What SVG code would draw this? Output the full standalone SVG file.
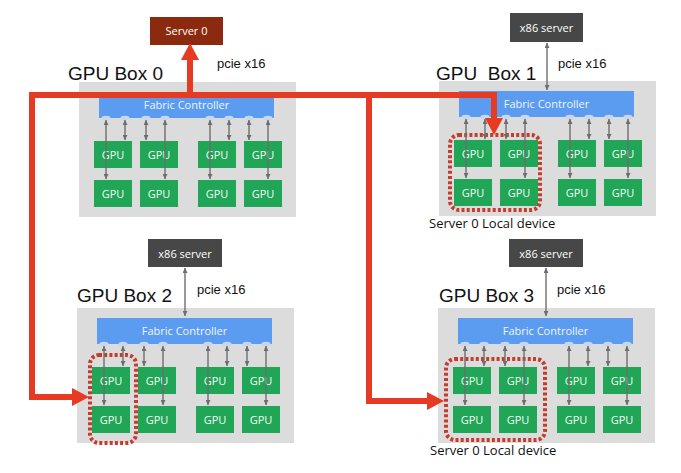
<svg xmlns="http://www.w3.org/2000/svg" width="681" height="473" viewBox="0 0 681 473">
<defs>
<style>
.box{fill:#dcdcdc}
.fc{fill:#5b9cf0}
.fct{font-family:"Open Sans","Noto Sans",sans-serif;font-size:11px;fill:#eef5ff;text-anchor:middle}
.port{fill:#c9d7ec}
.gpu{fill:#21a556}
.gt{font-family:"Open Sans","Noto Sans",sans-serif;font-size:11px;fill:#f2fff6;text-anchor:middle}
.title{font-family:"Liberation Sans",Arial,sans-serif;font-size:19px;fill:#111;white-space:pre}
.pcie{font-family:"Liberation Sans",Arial,sans-serif;font-size:13px;fill:#111}
.srv{fill:#474747}
.srv0{fill:#8c2a10}
.st{font-family:"Open Sans","Noto Sans",sans-serif;font-size:11px;fill:#fff;text-anchor:middle}
.local{font-family:"Open Sans","Noto Sans",sans-serif;font-size:13px;fill:#111}
.dot{fill:none;stroke:#c43c2c;stroke-width:4;stroke-dasharray:3 2.2}
.ga{fill:none;stroke:#6e6e6e;stroke-width:1.4;marker-start:url(#gh);marker-end:url(#gh)}
.red{fill:none;stroke:#e63b22;stroke-width:6;stroke-linejoin:miter;stroke-linecap:square}
.redA{fill:none;stroke:#e63b22;stroke-width:6;stroke-linecap:butt;marker-end:url(#rh)}
</style>
<marker id="gh" viewBox="0 0 6 6" refX="6" refY="3" markerWidth="5" markerHeight="5" markerUnits="userSpaceOnUse" orient="auto-start-reverse">
<path d="M0,0 L6,3 L0,6 z" fill="#6e6e6e"/>
</marker>
<marker id="rh" viewBox="0 0 17 18" refX="0" refY="9" markerWidth="17" markerHeight="18" markerUnits="userSpaceOnUse" orient="auto">
<path d="M0,0 L17,9 L0,18 z" fill="#e63b22"/>
</marker>
<g id="boxtpl">
<rect class="box" x="0" y="0" width="217" height="135"/>
<rect class="fc" x="20" y="10" width="175" height="26"/>
<text class="fct" x="107.5" y="27">Fabric Controller</text>
<ellipse class="port" cx="27" cy="36" rx="4.5" ry="2.3"/>
<ellipse class="port" cx="46" cy="36" rx="4.5" ry="2.3"/>
<ellipse class="port" cx="67" cy="36" rx="4.5" ry="2.3"/>
<ellipse class="port" cx="86" cy="36" rx="4.5" ry="2.3"/>
<ellipse class="port" cx="131" cy="36" rx="4.5" ry="2.3"/>
<ellipse class="port" cx="150" cy="36" rx="4.5" ry="2.3"/>
<ellipse class="port" cx="170" cy="36" rx="4.5" ry="2.3"/>
<ellipse class="port" cx="189" cy="36" rx="4.5" ry="2.3"/>
<rect class="gpu" x="15" y="59" width="38" height="27"/><text class="gt" x="34" y="77">GPU</text>
<rect class="gpu" x="61" y="59" width="38" height="27"/><text class="gt" x="80" y="77">GPU</text>
<rect class="gpu" x="119" y="59" width="38" height="27"/><text class="gt" x="138" y="77">GPU</text>
<rect class="gpu" x="165" y="59" width="38" height="27"/><text class="gt" x="184" y="77">GPU</text>
<rect class="gpu" x="15" y="98" width="38" height="27"/><text class="gt" x="34" y="116">GPU</text>
<rect class="gpu" x="61" y="98" width="38" height="27"/><text class="gt" x="80" y="116">GPU</text>
<rect class="gpu" x="119" y="98" width="38" height="27"/><text class="gt" x="138" y="116">GPU</text>
<rect class="gpu" x="165" y="98" width="38" height="27"/><text class="gt" x="184" y="116">GPU</text>
</g>
<g id="arrtpl">
<path class="ga" d="M27,38 L27,97"/>
<path class="ga" d="M46,38 L46,58"/>
<path class="ga" d="M67,38 L67,58"/>
<path class="ga" d="M86,38 L86,97"/>
<path class="ga" d="M131,38 L131,97"/>
<path class="ga" d="M150,38 L150,58"/>
<path class="ga" d="M170,38 L170,58"/>
<path class="ga" d="M189,38 L189,97"/>
</g>
</defs>
<rect width="681" height="473" fill="#fff"/>

<g id="server0">
<rect class="srv0" x="150" y="17" width="73" height="28"/>
<text class="st" x="186.5" y="35">Server 0</text>
</g>
<g id="box0">
<text class="title" x="68" y="80">GPU Box 0</text>
<text class="pcie" x="217" y="68">pcie x16</text>
<use href="#boxtpl" transform="translate(79,82)"/>
</g>

<g id="x86server1">
<rect class="srv" x="510" y="13" width="73" height="29"/>
<text class="st" x="546.5" y="32">x86 server</text>
</g>
<g id="box1">
<text class="title" x="436" y="80">GPU  Box 1</text>
<text class="pcie" x="558" y="68">pcie x16</text>
<use href="#boxtpl" transform="translate(439,81)"/>
<rect class="dot" x="450" y="135" width="90" height="75" rx="9"/>
<text class="local" x="429" y="228">Server 0 Local device</text>
</g>

<g id="x86server2">
<rect class="srv" x="148" y="239" width="74" height="28"/>
<text class="st" x="185" y="258">x86 server</text>
</g>
<g id="box2">
<text class="title" x="77" y="302">GPU Box 2</text>
<text class="pcie" x="197" y="294">pcie x16</text>
<use href="#boxtpl" transform="translate(77,308)"/>
<rect class="dot" x="90" y="355" width="46" height="88" rx="9"/>
</g>

<g id="x86server3">
<rect class="srv" x="509" y="239" width="74" height="28"/>
<text class="st" x="546" y="258">x86 server</text>
</g>
<g id="box3">
<text class="title" x="439" y="302">GPU Box 3</text>
<text class="pcie" x="557" y="294">pcie x16</text>
<use href="#boxtpl" transform="translate(438,308)"/>
<rect class="dot" x="446" y="359" width="99" height="81" rx="9"/>
<text class="local" x="430" y="455">Server 0 Local device</text>
</g>

<g id="connectors">
<use href="#arrtpl" transform="translate(79,82)"/>
<use href="#arrtpl" transform="translate(439,81)"/>
<use href="#arrtpl" transform="translate(77,308)"/>
<use href="#arrtpl" transform="translate(438,308)"/>
<path class="ga" d="M547,43 L547,90"/>
<path class="ga" d="M185,268 L185,316"/>
<path class="ga" d="M546,268 L546,316"/>
<path class="red" d="M72,397 L32,397 L32,95 L494,95 L494,114"/>
<path class="redA" d="M494,112 L494,118"/>
<path class="redA" d="M190,95 L190,60"/>
<path class="red" d="M369,95 L369,401 L424,401"/>
<path class="redA" d="M420,401 L427,401"/>
<path class="redA" d="M66,397 L72,397"/>
</g>
</svg>
